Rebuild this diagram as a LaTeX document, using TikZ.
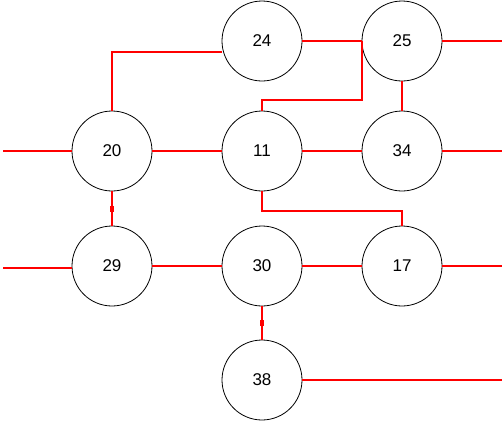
\documentclass[tikz,border=0pt]{standalone}
\usepackage{fontspec}
\setmainfont{Liberation Sans}
\begin{document}
\begin{tikzpicture}[x=1pt,y=-1pt,
  vtx/.style={draw=black,line width=0.8pt,circle,minimum size=80pt,inner sep=0pt,font=\fontsize{17}{20}\selectfont},
  wire/.style={draw=red,line width=1.8pt},
  blob/.style={fill=red,minimum width=3.6pt,minimum height=6pt,inner sep=0pt,draw=none}]
\useasboundingbox (0,0) rectangle (504,421);
\node[vtx] (n24) at (262,41) {24};
\node[vtx] (n25) at (402,41) {25};
\node[vtx] (n20) at (112,151) {20};
\node[vtx] (n11) at (262,151) {11};
\node[vtx] (n34) at (402,151) {34};
\node[vtx] (n29) at (112,266) {29};
\node[vtx] (n30) at (262,266) {30};
\node[vtx] (n17) at (402,266) {17};
\node[vtx] (n38) at (262,380) {38};
\coordinate (l20) at (3,151);
\coordinate (l29) at (3,268);
\coordinate (r25) at (502,41);
\coordinate (r34) at (502,151);
\coordinate (r17) at (502,266);
\coordinate (r38) at (502,380);
% wires
\draw[wire] (n20.north) |- ([yshift=-11pt]n24.west);
\draw[wire] (n24.east) -- (n25.west);
\draw[wire] (n25.west) -- ++(0,59) -| (n11.north);
\draw[wire] (n25.east) -- (r25);
\draw[wire] (n25.south) -- (n34.north);
\draw[wire] (l20) -- (n20.west);
\draw[wire] (n20.east) -- (n11.west);
\draw[wire] (n11.east) -- (n34.west);
\draw[wire] (n34.east) -- (r34);
\draw[wire] (n11.south) -- ++(0,19.5) -| (n17.north);
\draw[wire] (n20.south) -- (n29.north) node[blob,midway] (b1) {};
\draw[wire] (l29) -- (n29.west |- l29);
\draw[wire] (n29.east) -- (n30.west);
\draw[wire] (n30.east) -- (n17.west);
\draw[wire] (n17.east) -- (r17);
\draw[wire] (n30.south) -- (n38.north) node[blob,midway] (b2) {};
\draw[wire] (n38.east) -- (r38);
\end{tikzpicture}
\end{document}
